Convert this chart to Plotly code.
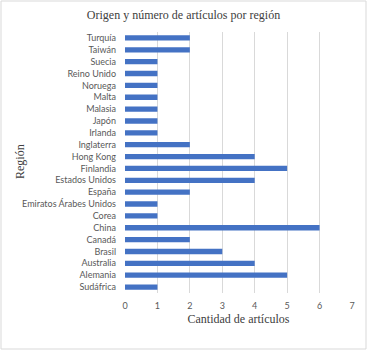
import plotly.graph_objects as go

regiones = ["Sudáfrica", "Alemania", "Australia", "Brasil", "Canadá", "China", "Corea",
            "Emiratos Árabes Unidos", "España", "Estados Unidos", "Finlandia", "Hong Kong",
            "Inglaterra", "Irlanda", "Japón", "Malasia", "Malta", "Noruega", "Reino Unido",
            "Suecia", "Taiwán", "Turquía"]
articulos = [1, 5, 4, 3, 2, 6, 1, 1, 2, 4, 5, 4, 2, 1, 1, 1, 1, 1, 1, 1, 2, 2]
x_ticks = [0, 1, 2, 3, 4, 5, 6, 7]

fig = go.Figure(go.Bar(
    x=articulos, y=regiones, orientation="h",
    marker=dict(color="#4472C4", line=dict(width=0)),
    width=0.45,
))

tick_font = dict(family="Lato", size=9, color="#595959")
title_font = dict(family="Liberation Serif", size=12, color="#404040")
fig.update_layout(
    width=367, height=350,
    margin=dict(l=125, r=15, t=32, b=57, autoexpand=False),
    paper_bgcolor="white", plot_bgcolor="white",
    showlegend=False,
    title=dict(text="Origen y número de artículos por región", font=title_font,
               x=0.5, xanchor="center", y=1 - 15/350, yanchor="middle"),
)
fig.update_xaxes(range=[0, 7], tickvals=x_ticks, showgrid=True, gridcolor="#D9D9D9",
                 gridwidth=1, zeroline=False, showline=False, ticks="", automargin=False,
                 tickfont=tick_font, ticklabelstandoff=6,
                 title=dict(text="Cantidad de artículos", font=title_font, standoff=4))
fig.update_yaxes(categoryorder="array", categoryarray=regiones,
                 tickmode="array", tickvals=regiones, ticktext=regiones,
                 showgrid=False, zeroline=False, showline=False, ticks="",
                 ticklabelstandoff=8, automargin=False, tickfont=tick_font)
fig.add_annotation(text="Región", xref="paper", yref="paper",
                   x=(20 - 125) / 227, y=(293 - 162) / 261, textangle=-90,
                   showarrow=False, font=title_font, xanchor="center", yanchor="middle")
fig.add_shape(type="rect", xref="paper", yref="paper",
              x0=-124/227, x1=(366-125)/227, y0=-(350-293-1)/261, y1=1 + 31/261,
              line=dict(color="#D9D9D9", width=1), fillcolor="rgba(0,0,0,0)")

fig.write_html("out.html", config={"displayModeBar": False},
               post_script="document.body.style.margin='0';document.body.style.overflow='hidden';")
